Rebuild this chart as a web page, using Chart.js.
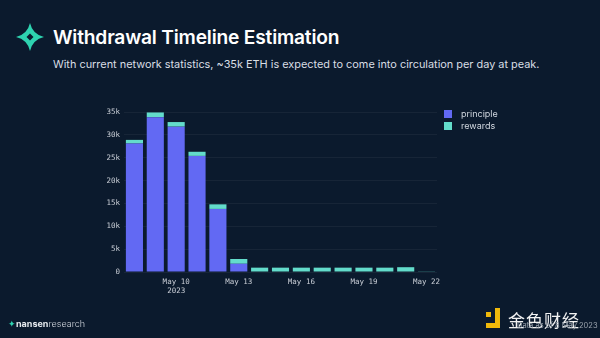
<!DOCTYPE html>
<html>
<head>
<meta charset="utf-8">
<script src="https://cdn.jsdelivr.net/npm/chart.js@4/dist/chart.umd.min.js"></script>
<style>
  html, body { margin: 0; padding: 0; }
  body { width: 600px; height: 338px; background: #0b1a2d; position: relative; overflow: hidden; font-family: Inter, "Noto Sans", sans-serif; }
  #chart { position: absolute; left: 0; top: 0; }
  .title { position: absolute; left: 53px; top: 25px; color: #fff; font-size: 19.2px; font-weight: 600; letter-spacing: -0.2px; white-space: nowrap; }
  .sub { position: absolute; left: 53px; top: 57px; color: #d9dee4; font-size: 10.9px; white-space: nowrap; }
  .star { position: absolute; left: 16px; top: 23px; }
  .legend { position: absolute; left: 444px; top: 109px; font-size: 9px; color: #d0d6de; }
  .legend div { height: 12px; line-height: 10px; }
  .legend span { display: inline-block; width: 8px; height: 8px; margin-right: 9px; vertical-align: top; margin-top: 1px; }
  .nansen { position: absolute; left: 8px; top: 318px; font-size: 9px; color: #e6eaee; }
  .nansen b { font-weight: 700; }
  .nansen i { font-style: normal; font-weight: 300; color: #cfd5dc; }
  .jinse { position: absolute; left: 508px; top: 307px; font-size: 17px; color: #f2f2f2; font-family: "Noto Sans CJK SC"; letter-spacing: 1px; }
  .jlogo { position: absolute; left: 486px; top: 308px; }
  .asof { position: absolute; left: 517px; top: 321px; font-size: 7.5px; color: #9aa3ad; }
</style>
</head>
<body>
<svg class="star" width="28" height="28" viewBox="0 0 32 32">
  <path d="M16 0 Q19 13 32 16 Q19 19 16 32 Q13 19 0 16 Q13 13 16 0 Z" fill="#2ed3b0"/>
  <path d="M16 12 L20 16 L16 20 L12 16 Z" fill="#0b1a2d"/>
</svg>
<div class="title">Withdrawal Timeline Estimation</div>
<div class="sub">With current network statistics, ~35k ETH is expected to come into circulation per day at peak.</div>
<canvas id="chart" width="600" height="338"></canvas>
<div class="legend" id="legend"></div>
<div class="nansen"><span style="color:#2ed3b0">&#10022;</span><b>nansen</b><i>research</i></div>
<svg class="jlogo" width="18" height="22" viewBox="0 0 18 22">
  <rect x="0" y="4" width="5" height="5" fill="#f0b90b"/>
  <path d="M9 0 H14 V20 H0 V15 H9 Z" fill="#f0b90b"/>
</svg>
<div class="jinse">金色财经</div>
<div class="asof">Data as of 8 May 2023</div>
<script>
// days May 8 .. May 22
const days = ["May 8", "May 9", "May 10", "May 11", "May 12", "May 13", "May 14", "May 15",
  "May 16", "May 17", "May 18", "May 19", "May 20", "May 21", "May 22"];
const shownTicks = ["May 10", "May 13", "May 16", "May 19", "May 22"];
const principle = [28100, 33850, 31800, 25400, 13800, 1800, 0, 0, 0, 0, 0, 0, 0, 0, 0];
const rewards = [800, 1050, 1000, 900, 1000, 1050, 950, 950, 950, 950, 950, 950, 950, 1050, 150];
const yTicks = [0, 5000, 10000, 15000, 20000, 25000, 30000, 35000];

const purple = "#6269f3";
const teal = "#63dccb";

const ctx = document.getElementById("chart").getContext("2d");

const chart = new Chart(ctx, {
  type: "bar",
  data: {
    labels: days,
    datasets: [
      { label: "principle", data: principle, backgroundColor: purple },
      { label: "rewards", data: rewards, backgroundColor: teal }
    ]
  },
  options: {
    responsive: false,
    animation: false,
    layout: { padding: { left: 90, right: 163, top: 112, bottom: 34 } },
    datasets: { bar: { categoryPercentage: 1, barPercentage: 0.82 } },
    plugins: { legend: { display: false }, tooltip: { enabled: false } },
    scales: {
      x: {
        stacked: true,
        grid: { display: false },
        border: { display: false },
        afterFit: s => { s.height = 32; },
        ticks: {
          autoSkip: false,
          maxRotation: 0,
          padding: -2,
          color: "#c9ced6",
          font: { family: "DejaVu Sans Mono", size: 7.5 },
          callback: function (v, i) {
            const d = days[i];
            if (!shownTicks.includes(d)) return "";
            return d === "May 10" ? [d, "2023"] : d;
          }
        }
      },
      y: {
        stacked: true,
        min: 0,
        max: 35000,
        afterFit: s => { s.width = 34; },
        afterBuildTicks: s => { s.ticks = yTicks.map(v => ({ value: v })); },
        grid: { color: "rgba(255,255,255,0.05)", drawTicks: false },
        border: { display: false },
        ticks: {
          padding: 4,
          color: "#c9ced6",
          font: { family: "DejaVu Sans Mono", size: 7.5 },
          callback: v => v === 0 ? "0" : (v / 1000) + "k"
        }
      }
    }
  }
});

// html legend from the datasets
document.getElementById("legend").innerHTML = chart.data.datasets
  .map(ds => `<div><span style="background:${ds.backgroundColor}"></span>${ds.label}</div>`)
  .join("");
</script>
</body>
</html>
